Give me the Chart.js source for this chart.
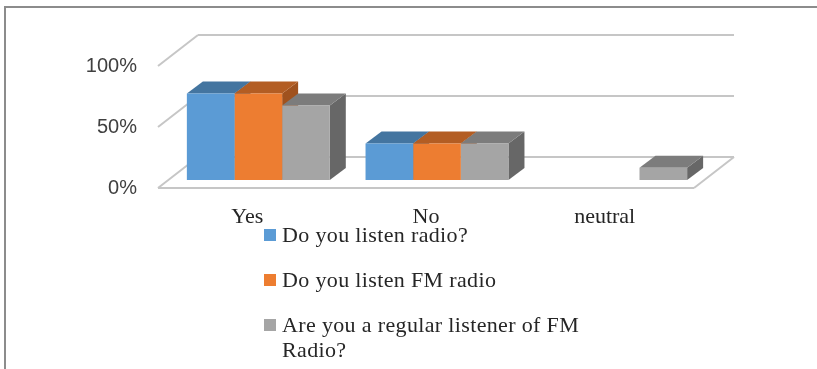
<!DOCTYPE html>
<html>
<head>
<meta charset="utf-8">
<script src="https://cdn.jsdelivr.net/npm/chart.js@4/dist/chart.umd.min.js"></script>
<style>
	html, body { margin: 0; padding: 0; background: #fff; overflow: hidden; }
	#frame { position: absolute; left: 4px; top: 6px; width: 813px; height: 363px; border-top: 2px solid #8c8c8c; border-left: 2px solid #8c8c8c; box-sizing: border-box; }
	#radio_chart { position: absolute; left: 0; top: 0; }
	#legend { position: absolute; left: 264px; top: 222px; width: 320px; font-family: "Liberation Serif", serif; font-size: 22px; line-height: 25px; color: #262626; }
	.item { position: relative; padding-left: 18px; margin-bottom: 20px; letter-spacing: 0.35px; }
	.swatch { position: absolute; left: 0; top: 7px; width: 12px; height: 12px; }
</style>
</head>
<body>
<div id="frame"></div>
<canvas id="radio_chart" width="817" height="369"></canvas>
<div id="legend"></div>
<script>
var categories = ['Yes', 'No', 'neutral'];

var seriesNames = ['Do you listen radio?', 'Do you listen FM radio', 'Are you a regular listener of FM Radio?'];

var listenRadio = [71, 30, 0];
var listenFm = [71, 30, 0];
var regularFm = [61, 30, 10];

var yTicks = [0, 50, 100];

var front_colours = ['#5B9BD5', '#ED7D31', '#A5A5A5'];
var top_colours = ['#4475A0', '#B35D23', '#7C7C7C'];
var side_colours = ['#3A6488', '#A0521E', '#676767'];

// How far the floor sticks out in front of the bars, and how deep it goes behind them
var floorFront = {x: -11, y: 8};
var floorDepth = {x: 40, y: -31};
var barDepth = {x: 16, y: -12};

function line(ctx, x1, y1, x2, y2)
{
	ctx.beginPath();
	ctx.moveTo(x1, y1);
	ctx.lineTo(x2, y2);
	ctx.stroke();
}

function face(ctx, colour, points)
{
	ctx.fillStyle = colour;
	ctx.beginPath();
	ctx.moveTo(points[0], points[1]);
	for (var i = 2; i < points.length; i += 2)
		ctx.lineTo(points[i], points[i + 1]);
	ctx.closePath();
	ctx.fill();
}

// Back wall lines, side wall lines and the floor outline
var wallsPlugin = {
	id: 'walls',
	beforeDatasetsDraw: function(chart)
	{
		var ctx = chart.ctx;
		var area = chart.chartArea;
		var yScale = chart.scales.y;
		var left = area.left + floorFront.x;
		var right = area.right + floorFront.x;

		ctx.save();
		ctx.strokeStyle = '#C6C6C6';
		ctx.lineWidth = 2;
		yTicks.forEach(function(tick)
		{
			var y = yScale.getPixelForValue(tick) + floorFront.y;
			line(ctx, left, y, left + floorDepth.x, y + floorDepth.y);
			line(ctx, left + floorDepth.x, y + floorDepth.y, right + floorDepth.x, y + floorDepth.y);
		});
		var floorY = yScale.getPixelForValue(0) + floorFront.y;
		line(ctx, left, floorY, right, floorY);
		line(ctx, right, floorY, right + floorDepth.x, floorY + floorDepth.y);
		ctx.restore();

		// top and side of each bar go under the flat fronts the library draws
		chart.data.datasets.forEach(function(dataset, index)
		{
			chart.getDatasetMeta(index).data.forEach(function(bar, i)
			{
				if (dataset.data[i] == 0)
					return;
				var x1 = bar.x - bar.width / 2;
				var x2 = bar.x + bar.width / 2;
				face(ctx, side_colours[index], [x2, bar.y, x2 + barDepth.x, bar.y + barDepth.y, x2 + barDepth.x, bar.base + barDepth.y, x2, bar.base]);
				face(ctx, top_colours[index], [x1, bar.y, x1 + barDepth.x, bar.y + barDepth.y, x2 + barDepth.x, bar.y + barDepth.y, x2, bar.y]);
			});
		});
	}
};

function drawLegend()
{
	var legend = document.getElementById('legend');
	seriesNames.forEach(function(name, index)
	{
		var item = document.createElement('div');
		item.className = 'item';
		var swatch = document.createElement('span');
		swatch.className = 'swatch';
		swatch.style.background = front_colours[index];
		item.appendChild(swatch);
		item.appendChild(document.createTextNode(name));
		legend.appendChild(item);
	});
}

function start()
{
	new Chart(document.getElementById('radio_chart').getContext('2d'), {
		type: 'bar',
		plugins: [wallsPlugin],
		data: {
			labels: categories,
			datasets: [
				{label: seriesNames[0], data: listenRadio, backgroundColor: front_colours[0]},
				{label: seriesNames[1], data: listenFm, backgroundColor: front_colours[1]},
				{label: seriesNames[2], data: regularFm, backgroundColor: front_colours[2]}
			]
		},
		options: {
			responsive: false,
			animation: false,
			layout: {padding: {left: 0, right: 112, top: 58, bottom: 129}},
			datasets: {bar: {categoryPercentage: 0.8, barPercentage: 1}},
			plugins: {legend: {display: false}, tooltip: {enabled: false}},
			scales: {
				x: {
					afterFit: function(scale) { scale.height = 60; },
					grid: {display: false},
					border: {display: false},
					ticks: {
						color: '#262626',
						padding: 16,
						labelOffset: -11,
						maxRotation: 0,
						font: {family: 'Liberation Serif', size: 22}
					}
				},
				y: {
					min: 0,
					max: 100,
					afterFit: function(scale) { scale.width = 169; },
					afterBuildTicks: function(scale) { scale.ticks = yTicks.map(function(v) { return {value: v}; }); },
					grid: {display: false},
					border: {display: false},
					ticks: {
						color: '#404040',
						padding: 24,
						labelOffset: 8,
						font: {family: 'Liberation Sans', size: 20},
						callback: function(value) { return value + '%'; }
					}
				}
			}
		}
	});
	drawLegend();
}

start();
</script>
</body>
</html>
